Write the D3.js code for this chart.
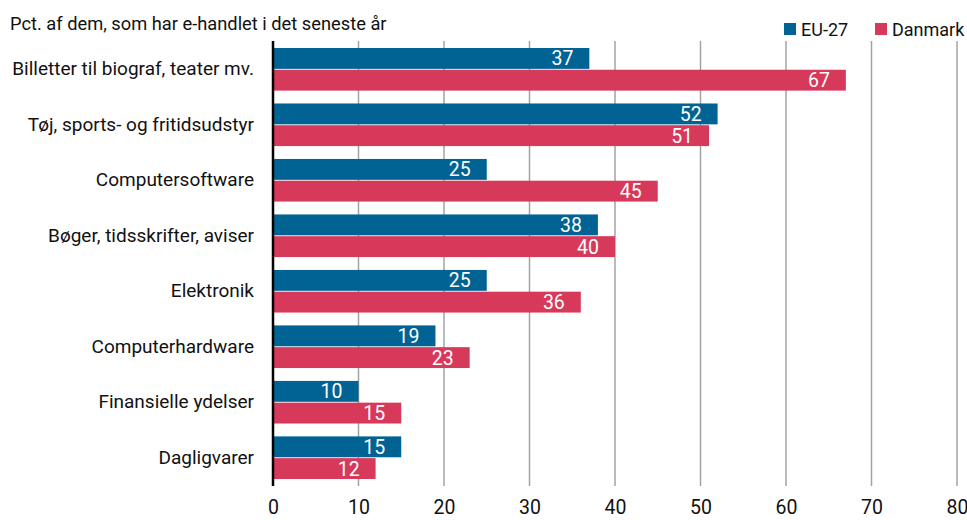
<!DOCTYPE html>
<html>
<head>
<meta charset="utf-8">
<script src="https://cdn.jsdelivr.net/npm/d3@7"></script>
<style>
  body { margin: 0; background: #fff; }
  text { font-family: Roboto, "Noto Sans", sans-serif; }
</style>
</head>
<body>
<div id="chart"></div>
<script>
var categories = ["Billetter til biograf, teater mv.", "Tøj, sports- og fritidsudstyr", "Computersoftware",
    "Bøger, tidsskrifter, aviser", "Elektronik", "Computerhardware", "Finansielle ydelser", "Dagligvarer"];
var seriesNames = ["EU-27", "Danmark"];
var euValues = [37, 52, 25, 38, 25, 19, 10, 15];
var dkValues = [67, 51, 45, 40, 36, 23, 15, 12];
var xTicks = [0, 10, 20, 30, 40, 50, 60, 70, 80];
var title = "Pct. af dem, som har e-handlet i det seneste år";

var colors = ["#006393", "#d7395a"];

var svgW = 967, svgH = 520;
var m = { left: 273, top: 41, right: 10, bottom: 34 };
var plotR = 957, plotB = svgH - m.bottom;

var svg = d3.select("#chart").append("svg")
    .attr("width", svgW)
    .attr("height", svgH);

var x = d3.scaleLinear().domain([0, 80]).range([m.left, plotR]);
var y = d3.scaleBand().domain(categories).range([m.top, plotB])
    .paddingInner(0.232).paddingOuter(0.126);
var y2 = d3.scaleBand().domain(seriesNames).range([0, y.bandwidth()]).paddingInner(0.04);

// gridlines
svg.append("g")
    .selectAll("line")
    .data(xTicks.slice(1))
    .enter().append("line")
    .attr("x1", function(d) { return x(d); })
    .attr("x2", function(d) { return x(d); })
    .attr("y1", m.top)
    .attr("y2", plotB)
    .attr("stroke", "#a3a3a3")
    .attr("stroke-width", 1.5);

// x axis labels
var xAxis = d3.axisBottom(x).tickValues(xTicks).tickSize(0).tickPadding(14);
var xG = svg.append("g")
    .attr("transform", "translate(0," + plotB + ")")
    .call(xAxis);
xG.select(".domain").remove();
xG.selectAll("text")
    .attr("font-size", 19.5)
    .attr("fill", "#111")
    .style("font-family", "Roboto, sans-serif");

var rows = categories.map(function(c, i) {
    return { cat: c, vals: [euValues[i], dkValues[i]] };
});

var groups = svg.append("g").selectAll("g")
    .data(rows)
    .enter().append("g")
    .attr("transform", function(d) { return "translate(0," + y(d.cat) + ")"; });

groups.selectAll("rect")
    .data(function(d) { return d.vals.map(function(v, j) { return { s: seriesNames[j], v: v, j: j }; }); })
    .enter().append("rect")
    .attr("x", x(0))
    .attr("y", function(d) { return y2(d.s); })
    .attr("width", function(d) { return x(d.v) - x(0); })
    .attr("height", y2.bandwidth())
    .attr("fill", function(d) { return colors[d.j]; });

groups.selectAll(".val")
    .data(function(d) { return d.vals.map(function(v, j) { return { s: seriesNames[j], v: v }; }); })
    .enter().append("text")
    .attr("class", "val")
    .attr("x", function(d) { return x(d.v) - 16; })
    .attr("y", function(d) { return y2(d.s) + y2.bandwidth() / 2; })
    .attr("dy", "0.36em")
    .attr("text-anchor", "end")
    .attr("font-size", 19.5)
    .attr("fill", "#fff")
    .text(function(d) { return d.v; });

// category labels
var yAxis = d3.axisLeft(y).tickSize(0).tickPadding(19);
var yG = svg.append("g")
    .attr("transform", "translate(" + m.left + ",0)")
    .call(yAxis);
yG.select(".domain").remove();
yG.selectAll("text")
    .attr("font-size", 19)
    .attr("fill", "#111")
    .style("font-family", "Roboto, sans-serif");

// zero line
svg.append("line")
    .attr("x1", x(0)).attr("x2", x(0))
    .attr("y1", m.top).attr("y2", plotB)
    .attr("stroke", "#000")
    .attr("stroke-width", 2.5);

// title
svg.append("text")
    .attr("x", 10)
    .attr("y", 30)
    .attr("font-size", 18.3)
    .attr("fill", "#111")
    .text(title);

// legend
var legX = [784, 875];
var leg = svg.append("g").selectAll("g")
    .data(seriesNames)
    .enter().append("g")
    .attr("transform", function(d, i) { return "translate(" + legX[i] + ",0)"; });
leg.append("rect")
    .attr("x", 0).attr("y", 23)
    .attr("width", 12).attr("height", 12)
    .attr("fill", function(d, i) { return colors[i]; });
leg.append("text")
    .attr("x", 17).attr("y", 35.5)
    .attr("font-size", 18)
    .attr("fill", "#111")
    .text(function(d) { return d; });
</script>
</body>
</html>
